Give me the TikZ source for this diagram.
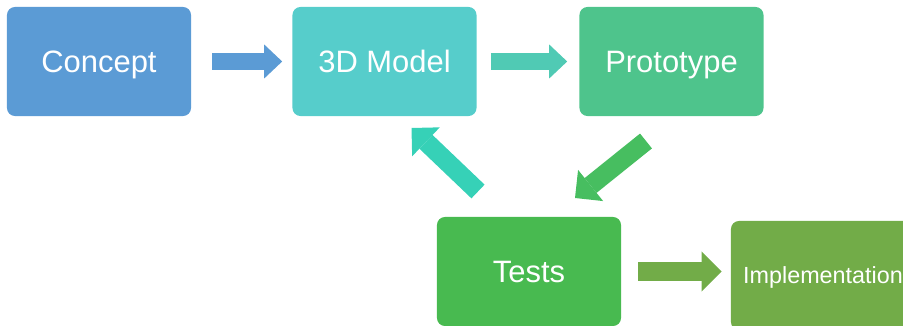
\documentclass[tikz,border=0pt]{standalone}
\usepackage{fontspec}
\setmainfont{Liberation Sans}
\usepackage{tikz}
\usetikzlibrary{arrows.meta}
\definecolor{conceptblue}{RGB}{91,155,213}
\definecolor{modelteal}{RGB}{86,205,203}
\definecolor{protogreen}{RGB}{78,196,140}
\definecolor{testsgreen}{RGB}{72,186,80}
\definecolor{implgreen}{RGB}{114,172,72}
\definecolor{flowteal}{RGB}{80,202,180}
\definecolor{backteal}{RGB}{54,209,183}
\definecolor{downgreen}{RGB}{71,190,96}

\begin{document}
\begin{tikzpicture}[
    x=0.025cm, y=-0.025cm,
    stage/.style={fill=#1, rounded corners=0.2cm, minimum width=4.6cm, minimum height=2.725cm, inner sep=0pt, text=white, text height=17pt, text depth=2pt, font=\fontsize{22}{26}\selectfont},
    flow/.style={line width=0.425cm, -{Triangle[length=0.45cm, width=0.85cm, line width=0pt]}},
    bigflow/.style={line width=0.475cm, -{Triangle[length=0.5cm, width=1cm, line width=0pt]}}
]
    \clip (0,0) rectangle (903,326);

    % Stages
    \node[stage=conceptblue] (concept) at (99,61.5) {Concept};
    \node[stage=modelteal] (model) at (384.5,61.5) {3D Model};
    \node[stage=protogreen] (proto) at (671.5,61.5) {Prototype};
    \node[stage=testsgreen] (tests) at (529,271.5) {Tests};
    \node[stage=implgreen, text height=13pt, text depth=2.3pt, font=\fontsize{16.6}{20}\selectfont] (impl) at (823,275.5) {Implementation};

    % Loose ends of the slanted arrows
    \coordinate (back-tail) at (478,191.5);
    \coordinate (back-tip) at (411.5,128);
    \coordinate (down-tail) at (646,141);
    \coordinate (down-tip) at (575,198);

    % Arrows
    \draw[flow, draw=conceptblue, shorten <=0.525cm, shorten >=0.25cm] (concept) -- (model);
    \draw[flow, draw=flowteal, shorten <=0.35cm, shorten >=0.3cm] (model) -- (proto);
    \draw[bigflow, draw=downgreen] (down-tail) -- (down-tip);
    \draw[bigflow, draw=backteal] (back-tail) -- (back-tip);
    \draw[bigflow, draw=implgreen, shorten <=0.425cm, shorten >=0.225cm] (tests.east) -- (tests.east -| impl.west);
\end{tikzpicture}
\end{document}
